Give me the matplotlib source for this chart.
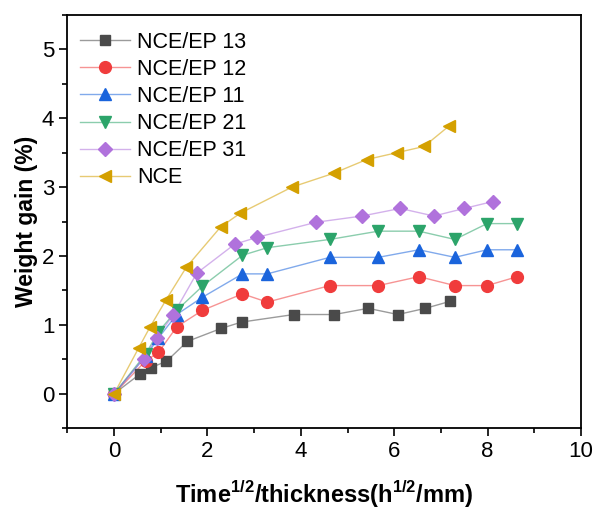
import matplotlib
matplotlib.use("Agg")
import matplotlib.pyplot as plt
from matplotlib.ticker import MultipleLocator
from matplotlib.lines import Line2D

plt.rcParams['font.family'] = ['Liberation Sans', 'DejaVu Sans']
plt.rcParams['mathtext.fontset'] = 'custom'
plt.rcParams['mathtext.bf'] = 'Liberation Sans:bold'
plt.rcParams['mathtext.rm'] = 'Liberation Sans'

x13 = [0, 0.56, 0.79, 1.12, 1.57, 2.30, 2.73, 3.85, 4.72, 5.44, 6.08, 6.67, 7.19]
y13 = [0, 0.29, 0.38, 0.47, 0.76, 0.95, 1.04, 1.15, 1.15, 1.24, 1.15, 1.24, 1.34]

x_common = [0, 0.68, 0.95, 1.34, 1.89, 2.75, 3.28, 4.62, 5.66, 6.53, 7.30, 7.99, 8.64]
y12 = [0, 0.48, 0.60, 0.97, 1.21, 1.45, 1.33, 1.57, 1.57, 1.70, 1.57, 1.57, 1.70]
y11 = [0, 0.55, 0.81, 1.15, 1.40, 1.74, 1.74, 1.98, 1.98, 2.09, 1.98, 2.09, 2.09]
y21 = [0, 0.58, 0.90, 1.21, 1.56, 2.01, 2.12, 2.24, 2.36, 2.36, 2.24, 2.47, 2.47]

x31 = [0, 0.63, 0.91, 1.26, 1.77, 2.58, 3.06, 4.33, 5.31, 6.13, 6.85, 7.50, 8.11]
y31 = [0, 0.51, 0.81, 1.14, 1.75, 2.17, 2.27, 2.49, 2.58, 2.69, 2.58, 2.69, 2.79]

xnce = [0, 0.53, 0.77, 1.11, 1.55, 2.28, 2.70, 3.81, 4.70, 5.41, 6.06, 6.64, 7.18]
ynce = [0, 0.67, 0.97, 1.36, 1.84, 2.42, 2.62, 3.00, 3.20, 3.40, 3.50, 3.59, 3.89]

labels = ['NCE/EP 13', 'NCE/EP 12', 'NCE/EP 11', 'NCE/EP 21', 'NCE/EP 31', 'NCE']
colors = ['#4a4a4a', '#f03c3c', '#1a64dc', '#2ca46a', '#b072dc', '#d4a000']
markers = ['s', 'o', '^', 'v', 'D', '<']
msizes = [6.5, 8.5, 8.5, 8.5, 7.5, 8.5]
series = [(x13, y13), (x_common, y12), (x_common, y11), (x_common, y21), (x31, y31), (xnce, ynce)]

fig = plt.figure(figsize=(5.97, 5.14), dpi=100)
ax = fig.add_axes([0.113, 0.167, 0.86, 0.804])

handles = []
for (xs, ys), lab, c, m, ms in zip(series, labels, colors, markers, msizes):
    ax.plot(xs, ys, color=c, linewidth=1.0, alpha=0.55, zorder=2)
    ax.plot(xs, ys, linestyle='none', marker=m, markersize=ms, color=c,
            markeredgecolor=c, zorder=3)
    hl = Line2D([0], [0], color=c, linewidth=1.0, alpha=0.55)
    hm = Line2D([0], [0], linestyle='none', marker=m, markersize=ms,
                markerfacecolor=c, markeredgecolor=c)
    handles.append((hl, hm))

leg = ax.legend(handles=handles, labels=labels, loc='upper left', frameon=False,
                fontsize=15.5, handlelength=2.3, handletextpad=0.35, labelspacing=0.28,
                borderaxespad=0.2, bbox_to_anchor=(0.0, 0.99))

ax.set_xlim(-1, 10)
ax.set_ylim(-0.5, 5.5)
ax.xaxis.set_major_locator(MultipleLocator(2))
ax.xaxis.set_minor_locator(MultipleLocator(1))
ax.yaxis.set_major_locator(MultipleLocator(1))
ax.yaxis.set_minor_locator(MultipleLocator(0.5))
ax.tick_params(which='both', direction='out', labelsize=16, width=1.2)
ax.tick_params(which='major', length=6)
ax.tick_params(which='minor', length=3.5)
for s in ax.spines.values():
    s.set_linewidth(1.3)

ax.set_xlabel(r'Time$^{\mathbf{1/2}}$/thickness(h$^{\mathbf{1/2}}$/mm)', fontsize=17,
              fontweight='bold', labelpad=12)
ax.set_ylabel('Weight gain (%)', fontsize=16.5, fontweight='bold', labelpad=3)

fig.savefig('out.png', dpi=100)
